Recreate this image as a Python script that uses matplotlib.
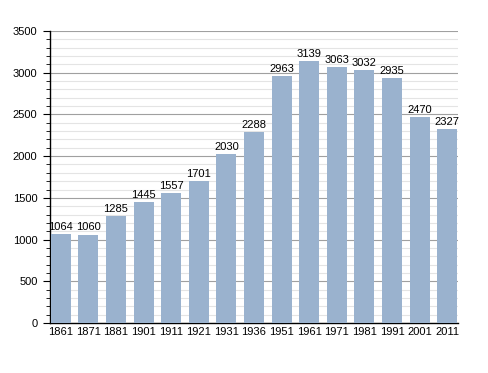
import numpy as np
import matplotlib.pyplot as plt
from matplotlib.ticker import MultipleLocator

years = ['1861', '1871', '1881', '1901', '1911', '1921', '1931', '1936',
         '1951', '1961', '1971', '1981', '1991', '2001', '2011']
population = [1064, 1060, 1285, 1445, 1557, 1701, 2030, 2288,
              2963, 3139, 3063, 3032, 2935, 2470, 2327]

plt.rcParams['font.family'] = ['Liberation Sans', 'DejaVu Sans']

fig = plt.figure(figsize=(4.88, 3.73), dpi=100)
ax = fig.add_axes([0.1025, 0.134, 0.836, 0.783])

x = np.arange(len(years))
ax.bar(x, population, width=0.73, color='#9ab2ce', zorder=3)

for xi, v in zip(x, population):
    ax.text(xi, v + 25, str(v), ha='center', va='bottom', fontsize=8, zorder=4)

ax.set_xlim(-0.39, len(years) - 0.61)
ax.set_ylim(0, 3500)
ax.set_xticks(x)
ax.set_xticklabels(years)
ax.yaxis.set_major_locator(MultipleLocator(500))
ax.yaxis.set_minor_locator(MultipleLocator(100))

ax.grid(axis='y', which='major', color='#a0a0a0', linewidth=0.8, zorder=0)
ax.grid(axis='y', which='minor', color='#e4e4e4', linewidth=0.8, zorder=0)

ax.spines['top'].set_visible(False)
ax.spines['right'].set_visible(False)
ax.spines['left'].set_linewidth(1.0)
ax.spines['bottom'].set_linewidth(1.0)

ax.tick_params(axis='y', which='major', length=5, labelsize=8, pad=4)
ax.tick_params(axis='y', which='minor', length=3)
ax.tick_params(axis='x', length=0, labelsize=8, pad=3)

fig.savefig('out.png', dpi=100)
